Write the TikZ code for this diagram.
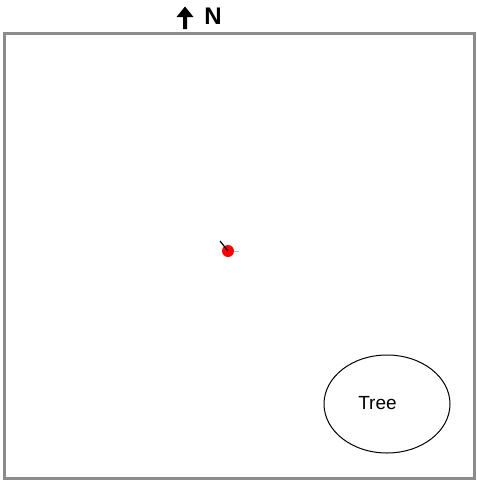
\documentclass[tikz,border=0pt]{standalone}
\usepackage{fontspec}
\setmainfont{Liberation Sans}
\usetikzlibrary{shapes.geometric}
\begin{document}
\begin{tikzpicture}[x=1pt,y=-1pt,
  frame/.style={draw=black!45,line width=3pt},
  lbl/.style={inner sep=0pt,font=\fontsize{19}{21}\selectfont}]
\useasboundingbox (0,0) rectangle (477,483);
\draw[frame] (4.5,33) rectangle (474.5,478);
% north arrow
\fill[black] (185,6.5) -- (176.5,17) -- (183,17) -- (183,29) -- (187,29) -- (187,17) -- (193.5,17) -- cycle;
\node[inner sep=0pt,font=\bfseries\fontsize{24}{26}\selectfont,anchor=center] (n) at (213,16.5) {N};
% person
\coordinate (hs) at (220,241);
\node[circle,fill=red,inner sep=0pt,minimum size=12pt] (dot) at (228,251) {};
\draw[black,line width=1.2pt] (hs) -- (dot.center);
\draw[black!25,line width=1pt] (dot.east) -- ++(5,0);
% tree
\node[draw,ellipse,line width=1pt,minimum width=126pt,minimum height=98pt,inner sep=0pt] (tree) at (387,404) {};
\node[lbl] (treelbl) at (377.5,403) {Tree};
\end{tikzpicture}
\end{document}
